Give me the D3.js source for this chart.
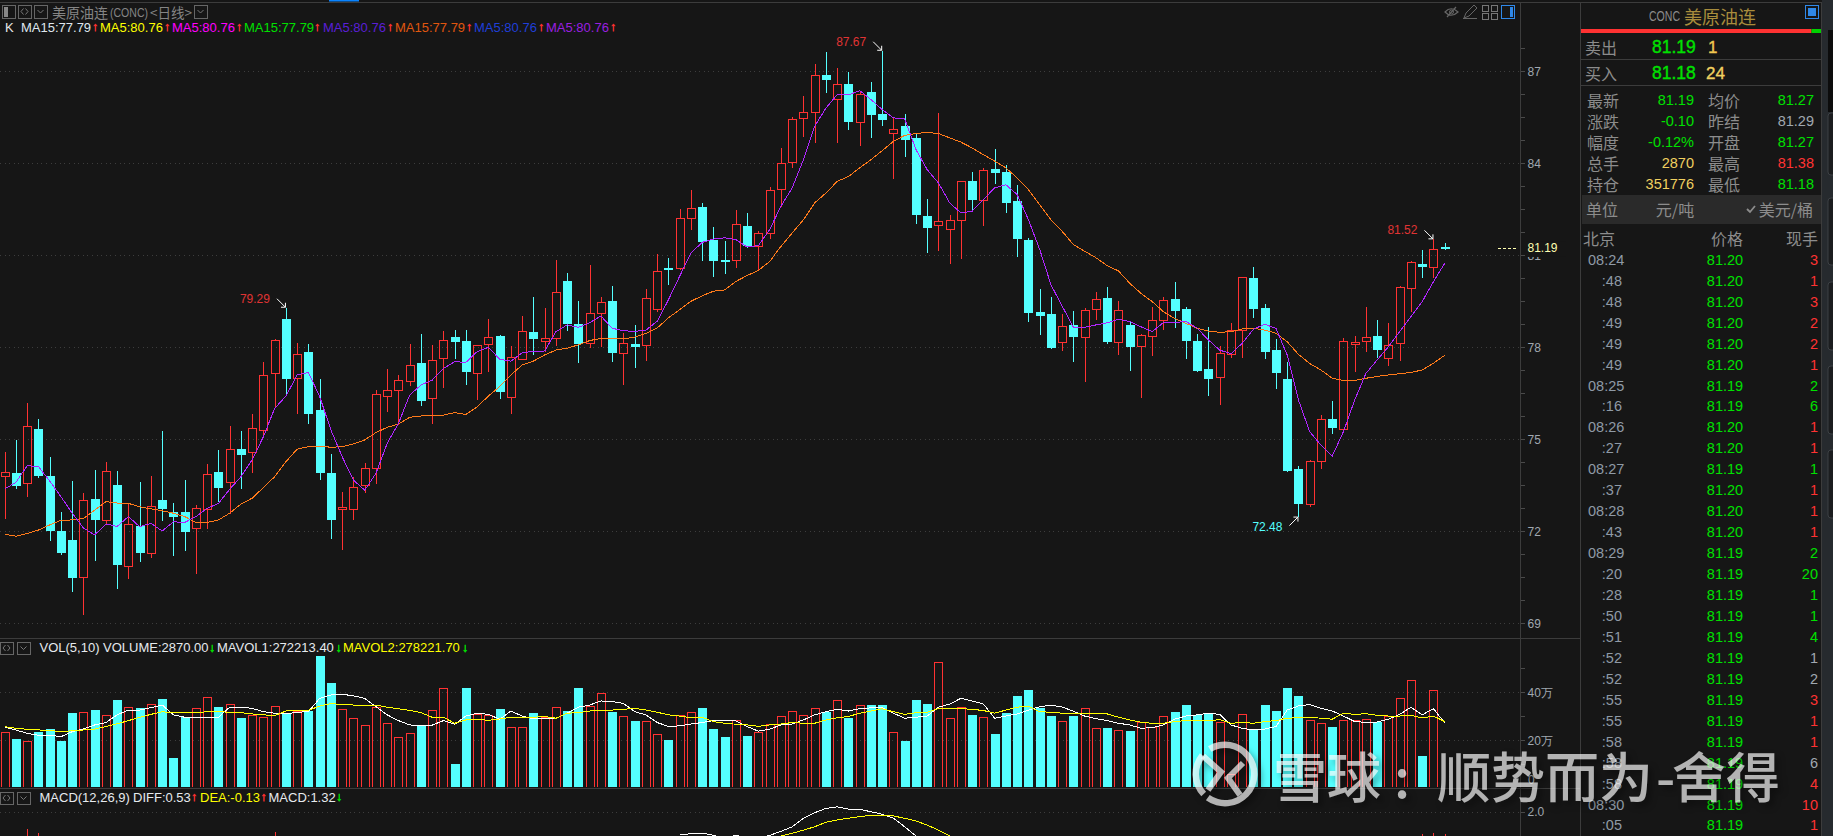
<!DOCTYPE html>
<html><head><meta charset="utf-8">
<script src="https://d3js.org/d3.v7.min.js"></script>
<style>html,body{margin:0;padding:0;background:#161616;overflow:hidden}svg{display:block}
text{font-family:"Liberation Sans",Arial,sans-serif}
.cjk{font-family:"Noto Sans CJK SC",sans-serif}
</style></head><body><svg id="c" width="1833" height="836"></svg>
<script>
// ---------- price series (USD/bbl), one value per trading day ----------
const openPrice=[73.79,73.90,73.56,75.34,73.80,72.01,71.72,70.50,73.05,72.38,
73.51,70.88,72.17,71.30,73.02,72.62,72.63,72.10,72.72,73.93,
73.60,74.68,74.57,75.29,77.15,78.92,77.01,77.85,75.96,73.90,
72.74,72.74,73.50,74.08,76.40,76.60,76.89,77.49,76.34,77.64,
78.34,78.21,77.15,78.10,78.37,76.39,77.61,78.50,78.21,78.29,
80.16,78.76,78.15,79.13,79.51,77.80,78.11,78.06,79.25,80.60,
80.59,82.21,82.56,81.51,80.86,80.84,81.97,81.29,81.72,83.16,
84.03,85.47,85.67,86.89,86.09,86.60,85.34,86.34,85.62,84.98,
85.20,84.84,82.29,81.98,81.85,82.14,83.42,82.81,83.82,83.70,
82.78,81.51,79.16,79.09,78.16,78.73,78.33,79.24,79.61,78.16,
78.73,78.03,78.36,78.90,79.58,79.25,78.21,77.29,77.02,77.79,
78.55,80.26,79.28,77.91,76.97,74.03,72.90,74.28,75.66,75.35,
78.12,78.22,78.37,77.64,78.13,79.92,80.73,80.63,81.27];
const closePrice=[73.92,73.49,75.42,73.81,72.02,71.30,70.49,73.01,72.38,73.95,
70.90,72.23,71.30,72.84,72.73,72.48,71.99,72.75,73.86,73.42,
74.67,74.50,75.36,77.09,78.23,76.98,77.77,75.84,73.91,72.38,
72.78,73.43,74.08,76.47,76.60,76.92,77.41,76.26,77.57,78.23,
78.18,77.21,78.06,78.33,76.55,77.69,78.52,78.27,78.29,79.79,
78.75,78.11,79.11,79.47,77.83,78.13,78.01,79.61,80.49,80.54,
82.22,82.54,81.42,80.81,80.81,82.02,81.29,81.73,83.13,84.01,
85.45,85.67,86.88,86.73,86.59,85.34,86.26,85.59,85.42,85.12,
84.77,82.33,81.90,82.12,82.15,83.42,82.81,83.78,83.67,82.72,
81.54,79.13,79.03,77.99,78.69,78.34,79.20,79.56,78.17,79.20,
78.01,78.39,78.88,79.53,79.19,78.21,77.23,76.97,77.80,78.55,
80.28,79.26,77.85,77.17,73.98,72.90,74.28,75.65,75.37,78.22,
78.16,78.33,77.92,78.06,79.95,80.77,80.62,81.22,81.19];
const highPrice=[74.58,74.98,76.17,75.65,74.41,72.63,73.63,73.25,74.00,74.25,
73.96,72.91,73.61,73.80,75.27,72.91,73.66,72.86,74.19,74.65,
75.45,75.27,75.81,77.52,78.27,79.29,78.15,78.10,76.97,74.52,
73.28,73.78,74.22,76.61,77.28,77.10,78.11,78.43,78.08,78.53,
78.56,78.56,78.06,78.92,78.40,78.04,79.02,79.64,79.27,80.85,
80.41,79.51,80.68,79.65,80.00,78.48,78.73,79.90,81.05,80.92,
82.51,83.14,82.69,81.92,81.48,82.48,82.39,81.78,83.23,84.51,
85.51,86.21,87.25,87.64,87.12,86.99,86.37,86.66,87.67,85.51,
85.62,84.97,82.85,85.65,82.33,83.42,83.72,83.85,84.48,83.96,
83.30,81.58,79.91,79.64,79.09,79.18,79.27,79.79,79.96,79.51,
78.84,78.43,79.31,79.65,80.13,79.30,78.43,78.66,78.04,78.79,
80.28,80.61,79.41,78.26,77.52,74.12,74.31,75.78,76.25,78.29,
78.37,79.30,78.89,78.79,80.00,80.83,81.17,81.52,81.40];
const lowPrice=[72.41,73.38,73.13,73.75,71.69,71.24,70.03,69.28,71.04,72.21,
70.13,70.45,71.01,71.14,72.35,71.21,71.37,70.62,72.09,72.97,
72.57,73.39,73.91,75.15,76.01,76.44,75.84,75.51,73.67,71.76,
71.40,72.38,73.24,73.55,75.90,75.47,76.75,76.09,75.51,76.68,
77.61,76.77,76.29,77.21,76.31,75.84,77.59,77.75,77.86,78.05,
78.53,77.50,77.99,78.02,77.52,76.77,77.34,77.56,79.14,80.02,
80.53,81.82,80.83,80.28,80.40,80.58,81.23,80.53,81.52,82.59,
83.84,84.85,84.65,86.30,84.67,85.07,84.56,84.84,85.23,83.48,
84.22,82.01,81.07,81.13,80.71,80.87,82.42,81.97,83.34,82.39,
80.93,78.82,78.41,77.95,77.89,77.52,76.88,78.89,78.12,77.75,
77.23,76.35,77.73,78.58,78.64,77.62,77.20,76.42,76.13,77.66,
77.66,78.97,77.63,76.65,73.95,72.48,72.80,74.04,75.17,75.30,
77.19,77.86,77.65,77.40,77.56,79.16,80.26,80.26,81.18];
const ma5=[73.38,73.60,74.14,74.11,73.64,73.13,72.59,72.11,71.88,72.24,
72.16,72.48,72.15,72.26,72.01,72.31,72.29,72.48,72.75,72.91,
73.37,73.78,74.33,75.09,76.01,76.41,77.10,77.18,76.39,75.30,
74.43,73.67,73.34,73.89,74.87,75.52,76.44,76.77,76.93,77.31,
77.53,77.51,77.86,78.00,77.61,77.55,77.82,77.87,77.88,78.51,
78.73,78.65,78.80,79.02,78.62,78.54,78.52,78.56,78.85,79.55,
80.32,81.08,81.42,81.53,81.57,81.51,81.27,81.32,81.84,82.60,
83.20,84.12,85.21,85.80,86.24,86.23,86.37,86.08,85.75,85.48,
85.45,84.45,83.79,83.36,82.71,82.38,82.44,82.82,83.20,83.30,
82.98,82.16,81.19,80.04,79.34,78.65,78.65,78.73,78.80,78.91,
78.84,78.67,78.51,78.81,78.81,78.84,78.62,78.24,77.91,77.79,
78.13,78.59,78.75,78.62,77.75,76.28,75.25,74.81,74.45,75.25,
76.28,77.15,77.59,78.02,78.51,79.00,79.49,80.14,80.74];
const ma15=[71.90,71.84,71.93,72.04,72.21,72.36,72.37,72.42,72.69,72.97,
72.92,72.91,72.80,72.73,72.67,72.59,72.48,72.29,72.29,72.37,
72.59,72.89,73.08,73.43,73.78,74.27,74.68,74.76,74.78,74.74,
74.76,74.85,74.98,75.22,75.39,75.50,75.72,75.76,75.78,75.79,
75.87,75.81,76.06,76.41,76.72,77.10,77.42,77.55,77.75,77.91,
77.97,78.08,78.22,78.29,78.28,78.28,78.33,78.45,78.63,78.96,
79.23,79.50,79.68,79.83,79.87,80.15,80.34,80.51,80.80,81.29,
81.73,82.16,82.71,83.03,83.41,83.57,83.85,84.12,84.41,84.72,
84.91,84.97,85.01,84.97,84.83,84.69,84.50,84.28,84.07,83.85,
83.52,83.14,82.65,82.16,81.78,81.35,81.13,80.92,80.66,80.49,
80.09,79.76,79.49,79.16,78.94,78.78,78.62,78.53,78.49,78.51,
78.60,78.62,78.56,78.46,78.18,77.77,77.47,77.26,76.99,76.92,
76.92,76.99,77.05,77.10,77.14,77.18,77.26,77.48,77.74];
// ---------- volume (10k lots) ----------
const volume=[23.3,20.6,19.6,23.6,24.7,19.7,31.4,31.7,32.6,30.4,
36.8,33.8,33.3,35.0,37.2,12.6,29.6,33.3,37.9,33.9,
35.0,29.3,30.4,29.6,34.2,31.3,32.2,32.2,55.1,43.9,
32.9,29.2,26.3,33.8,27.1,21.3,22.9,26.1,32.5,41.7,
10.1,41.8,30.8,30.7,33.1,25.4,25.4,31.4,29.6,33.8,
32.2,41.8,34.3,39.7,31.8,30.0,28.1,27.9,22.5,20.1,
30.4,31.7,33.5,24.7,21.4,28.3,21.8,23.3,26.7,30.0,
32.1,30.4,33.3,31.7,36.7,29.4,34.6,34.7,34.7,23.3,
19.7,36.8,35.1,52.5,29.2,33.8,30.6,29.6,22.6,31.3,
38.5,41.0,33.3,30.1,27.9,30.1,33.3,25.0,25.1,24.2,
23.9,27.8,25.4,30.0,31.8,34.7,30.4,31.4,27.5,6.0,
30.8,24.3,34.7,32.2,41.8,38.5,28.3,27.1,25.6,28.3,
28.3,28.8,27.5,30.0,37.5,45.0,13.5,40.8,0.29];
const mavol1=[25.4,24.3,22.9,22.1,22.1,21.5,23.6,24.7,26.4,27.4,
30.6,32.6,32.6,33.6,34.7,30.6,29.6,29.6,29.6,29.6,
33.8,33.8,33.3,31.9,31.3,31.0,31.7,31.9,37.5,38.9,
39.2,38.5,37.5,34.0,30.6,28.2,26.4,26.1,26.3,28.2,
26.7,30.1,31.3,30.8,28.8,32.2,30.1,29.0,29.0,29.2,
31.3,33.8,34.7,36.4,36.1,35.4,31.9,30.6,27.4,25.8,
26.0,26.8,27.4,28.2,28.3,28.1,25.7,23.8,24.6,26.4,
26.8,28.5,30.6,31.9,32.9,32.2,33.2,33.5,33.6,31.3,
29.2,29.6,30.1,33.8,35.1,37.5,36.4,35.1,29.2,30.1,
31.0,32.6,34.0,34.6,33.9,32.1,30.1,29.0,28.2,27.1,
26.4,25.0,25.3,26.4,28.8,30.1,30.6,31.3,30.8,26.4,
25.0,24.3,24.7,25.7,32.6,34.3,34.9,33.3,32.2,30.1,
27.8,27.5,27.6,28.8,30.8,33.8,30.6,33.2,27.2];
const mavol2=[25.7,25.0,24.6,24.3,24.2,23.5,24.0,24.3,24.7,25.7,
26.9,28.2,29.6,30.8,31.9,31.4,31.4,31.5,31.9,31.9,
31.7,31.5,31.0,30.6,30.3,32.2,32.4,32.5,34.3,35.3,
34.9,34.7,34.7,34.7,33.8,33.1,32.5,31.5,29.6,29.6,
27.1,28.5,28.8,28.3,28.9,29.6,29.6,29.6,29.9,29.2,
31.3,31.5,32.2,32.4,32.6,32.9,33.3,32.6,31.7,30.6,
30.1,29.4,29.6,27.8,27.1,26.7,26.4,25.8,26.4,26.8,
27.4,27.1,27.1,28.5,29.4,29.9,31.3,32.2,33.1,31.9,
30.8,31.5,31.7,33.3,33.3,33.2,32.9,32.4,31.3,32.6,
33.8,34.2,31.9,31.7,31.3,31.3,31.3,31.3,31.0,29.6,
28.5,27.5,27.1,27.1,27.8,28.2,28.2,28.2,28.6,27.1,
27.4,27.1,27.8,28.2,29.2,29.4,29.6,29.2,28.8,31.3,
30.8,31.1,30.4,30.1,30.1,30.4,29.3,30.1,27.8];
// ---------- MACD (only the top of the pane is visible) ----------
const diffStart=60, diffSeries=[1.29,1.33,1.35,1.28,1.19,1.28,1.19,1.19,1.28,1.40,1.54,1.80,1.97,2.10,2.15,2.08,2.07,2.00,1.92,1.80,1.54,1.26,1.10];
const deaStart=68, deaSeries=[1.10,1.26,1.34,1.44,1.54,1.68,1.75,1.80,1.85,1.89,1.89,1.87,1.80,1.72,1.59,1.44,1.26,1.10];
const macdDay=[2,3,24,126,127,128], macdBar=[1.47,1.36,1.39,1.32,1.34,1.32];
// ---------- labels ----------
const priceTicks=[87,84,81,78,75,72,69];
const volTicks=[40,20];
const extremes=[{i:25,v:79.29,up:true},{i:78,v:87.67,up:true},{i:127,v:81.52,up:true},{i:115,v:72.48,up:false}];
const legendK=[["K",5,"#e8e8e8"],["MA15:77.79",21,"#dfe6ee"],["MA5:80.76",100,"#ffff00"],["MA5:80.76",172,"#ff00ff"],["MA15:77.79",244,"#00e000"],["MA5:80.76",323,"#5a1fd6"],["MA15:77.79",395,"#e0560f"],["MA5:80.76",474,"#1f3fd8"],["MA5:80.76",546,"#9a1fe0"]];
const legendKArrows=[95,167,239,317,390,469,541,613];
const quoteRows=[["最新","81.19","#00e000","均价","81.27","#00e000"],["涨跌","-0.10","#00e000","昨结","81.29","#a0a8b0"],["幅度","-0.12%","#00e000","开盘","81.27","#00e000"],["总手","2870","#f0d060","最高","81.38","#ff3333"],["持仓","351776","#f0d060","最低","81.18","#00e000"]];
const tradeTimes=["08:24",":48",":48",":49",":49",":49","08:25",":16","08:26",":27","08:27",":37","08:28",":43","08:29",":20",":28",":50",":51",":52",":52",":55",":55",":58",":58",":58","08:30",":05"];
const tradePrices=[81.20,81.20,81.20,81.20,81.20,81.20,81.19,81.19,81.20,81.20,81.19,81.20,81.20,81.20,81.19,81.19,81.19,81.19,81.19,81.19,81.19,81.19,81.19,81.19,81.19,81.19,81.19,81.19];
const tradeQty=[3,1,3,2,2,1,2,6,1,1,1,1,1,1,2,20,1,1,4,1,2,3,1,1,6,4,10,1];
const tradeSide=["r","r","r","r","r","r","g","g","r","r","g","r","r","r","g","g","g","g","g","n","n","r","r","r","n","r","r","r"];

const RED="#ff3232",CYAN="#54ffff",BG="#161616",LINE="#3c3c3c",GREEN="#00e000",GREY="#a0a8b0",LABEL="#8c8c8c";
const svg=d3.select("#c");
svg.append("rect").attr("width",1833).attr("height",836).attr("fill",BG);
const x=d3.scaleLinear().domain([0,128]).range([4.7,1444.7]);
const y=d3.scaleLinear().domain([69,87]).range([623.3,71.3]);
const yV=d3.scaleLinear().domain([0,40]).range([788.3,692.3]);
const yM=d3.scaleLinear().domain([0,2]).range([877.3,811.7]);
const px=v=>Math.round(v)+.5;
const days=d3.range(openPrice.length);

const defs=svg.append("defs");
[["cMain",0,20,1520,618],["cVol",0,638,1520,149],["cMacd",0,788,1520,48]].forEach(c=>defs.append("clipPath").attr("id",c[0]).append("rect").attr("x",c[1]).attr("y",c[2]).attr("width",c[3]).attr("height",c[4]));

function grid(vals,scale){svg.append("g").attr("shape-rendering","crispEdges").selectAll("line").data(vals).join("line")
 .attr("x1",0).attr("x2",1520).attr("y1",d=>px(scale(d))).attr("y2",d=>px(scale(d)))
 .attr("stroke","#3d3d3d").attr("stroke-dasharray","1,3.6");}
grid(priceTicks,y);grid(volTicks,yV);grid([2],yM);

// candles
const gK=svg.append("g").attr("clip-path","url(#cMain)").attr("shape-rendering","crispEdges");
const cand=gK.selectAll("g").data(days).join("g");
cand.each(function(i){
 const g=d3.select(this),up=closePrice[i]>=openPrice[i],c=up?RED:CYAN,cx=Math.round(x(i));
 const top=Math.round(y(Math.max(openPrice[i],closePrice[i]))),bot=Math.round(y(Math.min(openPrice[i],closePrice[i])));
 g.append("line").attr("x1",cx+.5).attr("x2",cx+.5).attr("y1",y(highPrice[i])).attr("y2",top).attr("stroke",c);
 g.append("line").attr("x1",cx+.5).attr("x2",cx+.5).attr("y1",bot).attr("y2",y(lowPrice[i])).attr("stroke",c);
 if(up) g.append("rect").attr("x",cx-3.5).attr("y",top+.5).attr("width",8).attr("height",Math.max(1,bot-top)).attr("fill","none").attr("stroke",c);
 else g.append("rect").attr("x",cx-4).attr("y",top).attr("width",9).attr("height",Math.max(2,bot-top)).attr("fill",c);
});
const lineOf=(s,sc,start=0)=>d3.line().x((d,k)=>x(k+start)).y(d=>sc(d))(s);
const gL=svg.append("g").attr("clip-path","url(#cMain)").attr("fill","none").attr("stroke-width",1).attr("shape-rendering","crispEdges");
gL.append("path").attr("d",lineOf(ma15,y)).attr("stroke","#ff7a1a");
gL.append("path").attr("d",lineOf(ma5,y)).attr("stroke","#b026ff");

// extreme markers
const gE=svg.append("g");
extremes.forEach(e=>{
 const px0=x(e.i),py0=y(e.v),hi=e.up;
 const [ax,ay]=hi?[px0-9,py0-9]:[px0-9,py0+9];
 gE.append("path").attr("d",`M${ax},${ay}L${px0-.5},${py0+(hi?-.5:.5)}M${px0-5},${py0+(hi?-.5:.5)}H${px0-.5}V${py0+(hi?-5:5)}`).attr("stroke","#fff").attr("fill","none");
 gE.append("text").attr("x",px0-31).attr("y",py0+(hi?-9:10)).attr("text-anchor","middle").attr("dominant-baseline","central").attr("font-size",12)
  .attr("fill",hi?"#e03434":"#54ffff").text(e.v.toFixed(2));
});

// volume
const gV=svg.append("g").attr("clip-path","url(#cVol)").attr("shape-rendering","crispEdges");
gV.selectAll("rect").data(days).join("rect").each(function(i){
 const up=closePrice[i]>=openPrice[i],cx=Math.round(x(i)),t=Math.round(yV(volume[i]));
 const r=d3.select(this);
 if(up) r.attr("x",cx-3.5).attr("y",t+.5).attr("width",8).attr("height",786.5-t).attr("fill","none").attr("stroke",RED);
 else r.attr("x",cx-4).attr("y",t).attr("width",9).attr("height",787-t).attr("fill",CYAN);
});
const gVL=svg.append("g").attr("clip-path","url(#cVol)").attr("fill","none").attr("stroke-width",1).attr("shape-rendering","crispEdges");
gVL.append("path").attr("d",lineOf(mavol1,yV)).attr("stroke","#ffffff");
gVL.append("path").attr("d",lineOf(mavol2,yV)).attr("stroke","#ffff00");

// macd
const gM=svg.append("g").attr("clip-path","url(#cMacd)").attr("shape-rendering","crispEdges");
gM.selectAll("line").data(macdDay).join("line").attr("x1",d=>px(x(d))).attr("x2",d=>px(x(d))).attr("y1",(d,k)=>yM(macdBar[k])).attr("y2",840).attr("stroke",RED);
gM.append("path").attr("d",lineOf(diffSeries,yM,diffStart)).attr("fill","none").attr("stroke","#fff");
gM.append("path").attr("d",lineOf(deaSeries,yM,deaStart)).attr("fill","none").attr("stroke","#ffff00");

// frame
const frame=svg.append("g").attr("stroke",LINE).attr("shape-rendering","crispEdges");
[[0,2.5,1833,2.5],[0,638.5,1580,638.5],[0,788.5,1580,788.5],[1520.5,2,1520.5,836],[1580.5,2,1580.5,836],[1821.5,2,1821.5,836]].forEach(l=>frame.append("line").attr("x1",l[0]).attr("y1",l[1]).attr("x2",l[2]).attr("y2",l[3]));
svg.append("rect").attr("x",329).attr("y",0).attr("width",30).attr("height",1.5).attr("fill","#0a84ff");

// axes through d3
function styleAxis(g){g.select(".domain").remove();g.selectAll("line").attr("stroke","#4a4a4a").attr("shape-rendering","crispEdges");
 g.selectAll("text").attr("fill",GREY).attr("font-size",12).attr("font-family","'Liberation Sans','Noto Sans CJK SC'");}
const aK=svg.append("g").attr("transform","translate(1520.5,0)").call(d3.axisRight(y).tickValues(d3.range(69,87.76,.75)).tickSize(4).tickPadding(3).tickFormat(d=>priceTicks.includes(d)?d:""));
aK.call(styleAxis);
const aV=svg.append("g").attr("transform","translate(1520.5,0)").call(d3.axisRight(yV).tickValues([10,20,30,40,50]).tickSize(4).tickPadding(3).tickFormat(d=>volTicks.includes(d)?d+"万":""));
aV.call(styleAxis);
svg.append("text").attr("x",1528).attr("y",780).attr("dominant-baseline","central").attr("font-size",12).attr("fill",GREY).text("0");
const aM=svg.append("g").attr("transform","translate(1520.5,0)").call(d3.axisRight(yM).tickValues([2]).tickSize(4).tickPadding(3).tickFormat(d3.format(".1f")));
aM.call(styleAxis);
// last price tag: it masks most of the "81" axis label, as in the source
const yLast=y(closePrice[128]);
svg.append("rect").attr("x",1526).attr("y",yLast-8).attr("width",40).attr("height",15.5).attr("fill",BG);
svg.append("line").attr("x1",1498).attr("x2",1518).attr("y1",px(yLast-1)).attr("y2",px(yLast-1)).attr("stroke","#ffffb0").attr("stroke-dasharray","3,2").attr("shape-rendering","crispEdges");
svg.append("text").attr("x",1527.5).attr("y",yLast-1).attr("dominant-baseline","central").attr("font-size",12).attr("fill","#ffffb0").text(closePrice[128].toFixed(2));

// helpers
function t(g,s,xx,yy,size,fill,o={}){const e=g.append("text").attr("x",xx).attr("y",yy).attr("font-size",size).attr("fill",fill).attr("dominant-baseline","central").attr("text-anchor",o.a||"start").text(s);
 if(o.cjk)e.attr("class","cjk"); if(o.w)e.attr("font-weight",o.w); if(o.len)e.attr("textLength",o.len).attr("lengthAdjust","spacingAndGlyphs");
 if(o.sw)e.attr("stroke",fill).attr("stroke-width",o.sw); return e;}
function box(g,xx,yy,w,h,c="#666"){g.append("rect").attr("x",xx+.5).attr("y",yy+.5).attr("width",w).attr("height",h).attr("fill","none").attr("stroke",c).attr("shape-rendering","crispEdges");}
function chev(g,xx,yy){g.append("path").attr("d",`M${xx},${yy-1.5}l3,3l3,-3`).attr("fill","none").attr("stroke","#777");}
function diam(g,xx,yy){g.append("path").attr("d",`M${xx-1},${yy-3}l-2.5,3l2.5,3M${xx+1},${yy-3}l2.5,3l-2.5,3`).attr("fill","none").attr("stroke","#777");}
const H=svg.append("g");

// title row
box(H,2,5,13,13);H.append("rect").attr("x",4).attr("y",7).attr("width",4).attr("height",10).attr("fill","#888");
box(H,18,5,13,13);diam(H,24.5,11.5);box(H,34,5,13,13);chev(H,37.5,11.5);
t(H,"美原油连",52,12,14,"#858585",{cjk:1});t(H,"(CONC)",110,12,13,"#858585",{len:38});t(H,"<日线>",150,12,14,"#858585",{cjk:1,len:42});
box(H,194,5,13,13);chev(H,197.5,11.5);
legendK.forEach(l=>t(H,l[0],l[1],27,13,l[2]));
legendKArrows.forEach(a=>t(H,"↑",a,27,12,"#ff3232",{a:"middle",w:"bold",sw:.5}));

// right-top icons
H.append("path").attr("d","M1445,12q6,-6.5 13,0q-7,6.5 -13,0zM1447,17l9,-10").attr("fill","none").attr("stroke","#666").attr("stroke-width",1.2);
H.append("circle").attr("cx",1451.5).attr("cy",12).attr("r",2).attr("fill","none").attr("stroke","#666");
H.append("path").attr("d","M1464,18l2,-5l8,-8l3,3l-8,8zM1463,18.5h14").attr("fill","none").attr("stroke","#666");
[[1482,5],[1491,5],[1482,13],[1491,13]].forEach(p=>box(H,p[0],p[1],5.5,5.5,"#777"));
box(H,1501,5,13,13,"#2f88e8");H.append("rect").attr("x",1510).attr("y",7).attr("width",3).attr("height",10).attr("fill","#2f88e8");

// vol / macd headers
[642,792].forEach(b=>{box(H,0,b,13,12);diam(H,6.5,b+6);box(H,17,b,13,12);chev(H,20.5,b+6);});
t(H,"VOL(5,10)",39.5,647.5,13,"#e6eaee");t(H,"VOLUME:2870.00",103,647.5,13,"#e6eaee");t(H,"MAVOL1:272213.40",217,647.5,13,"#e6eaee");t(H,"MAVOL2:278221.70",343,647.5,13,"#ffff00");
[212,338.5,465].forEach(a=>t(H,"↓",a,647.5,12,"#00e000",{a:"middle",w:"bold",sw:.5}));
t(H,"MACD(12,26,9)",39.5,797,13,"#e6eaee");t(H,"DIFF:0.53",133,797,13,"#e6eaee");t(H,"DEA:-0.13",200,797,13,"#ffff00");t(H,"MACD:1.32",268.5,797,13,"#e6eaee");
t(H,"↑",194,797,12,"#ff3232",{a:"middle",w:"bold",sw:.5});t(H,"↑",263.5,797,12,"#ff3232",{a:"middle",w:"bold",sw:.5});t(H,"↓",339,797,12,"#00e000",{a:"middle",w:"bold",sw:.5});

// quote panel
const P=svg.append("g");
t(P,"CONC",1649,16,14,"#8c8c8c",{len:31});t(P,"美原油连",1684,16,18,"#a88c3c",{cjk:1});
box(P,1805,5,13,13,"#2f88e8");P.append("rect").attr("x",1808).attr("y",8).attr("width",8).attr("height",8).attr("fill","#2f88e8");
const bidAskShare=d3.scaleLinear().domain([0,25]).range([1581,1821]);
P.append("rect").attr("x",1581).attr("y",29).attr("width",bidAskShare(24)-1581).attr("height",4).attr("fill","#ff3232");
P.append("rect").attr("x",bidAskShare(24)).attr("y",29).attr("width",1821-bidAskShare(24)).attr("height",4).attr("fill","#00d000");
[59.5,85.5].forEach(l=>P.append("line").attr("x1",1581).attr("x2",1821).attr("y1",l).attr("y2",l).attr("stroke",LINE));
t(P,"卖出",1585,47,16,LABEL,{cjk:1});t(P,"81.19",1652,47,17.5,GREEN,{sw:.35});t(P,"1",1708,47,17,"#f0c850",{sw:.35});
t(P,"买入",1585,73,16,LABEL,{cjk:1});t(P,"81.18",1652,73,17.5,GREEN,{sw:.35});t(P,"24",1706,73,17,"#f0d060",{sw:.35});
quoteRows.forEach((r,k)=>{const yy=100+k*21;
 t(P,r[0],1587,yy,16,LABEL,{cjk:1});t(P,r[1],1694,yy,14.5,r[2],{a:"end"});
 t(P,r[3],1708,yy,16,LABEL,{cjk:1});t(P,r[4],1814,yy,14.5,r[5],{a:"end"});});
P.append("rect").attr("x",1582).attr("y",195).attr("width",239).attr("height",29).attr("fill","#2a2a2a");
t(P,"单位",1586,209,16,LABEL,{cjk:1});t(P,"元/吨",1675,209,16,LABEL,{cjk:1,a:"middle"});t(P,"美元/桶",1813,209,16,LABEL,{cjk:1,a:"end"});
P.append("path").attr("d","M1747,209l3,3l5,-6").attr("fill","none").attr("stroke",LABEL).attr("stroke-width",1.8);
t(P,"北京",1583,238,16,LABEL,{cjk:1});t(P,"价格",1727,238,16,LABEL,{cjk:1,a:"middle"});t(P,"现手",1818,238,16,LABEL,{cjk:1,a:"end"});
const sideColor={r:"#ff3232",g:GREEN,n:GREY};
tradeTimes.forEach((tm,k)=>{const yy=259.8+k*20.95;
 t(P,tm,tm.length>3?1588:1622,yy,14.5,"#8f9aa6",{a:tm.length>3?"start":"end"});
 t(P,tradePrices[k].toFixed(2),1725,yy,14.5,GREEN,{a:"middle"});
 t(P,tradeQty[k],1818,yy,14.5,sideColor[tradeSide[k]],{a:"end"});});

// right sliver
const S=svg.append("g");
S.append("rect").attr("x",1822).attr("y",0).attr("width",11).attr("height",836).attr("fill","#262a2e");
S.append("rect").attr("x",1828).attr("y",30).attr("width",5).attr("height",82).attr("fill","#0c0c0c");
[[113,175],[198,265],[282,350],[366,434],[450,518]].forEach(b=>S.append("path").attr("d",`M1833,${b[0]}h-2q-3,0 -3,3v${b[1]-b[0]-6}q0,3 3,3h2`).attr("fill","#1b1d1f").attr("stroke","#3c4044"));

// watermark
const wmColor="rgba(255,255,255,.68)";
const W=svg.append("g").style("filter","drop-shadow(4px 4px 3px rgba(0,0,0,.5))").attr("fill",wmColor);
W.append("path").attr("d",d3.arc()({innerRadius:26,outerRadius:32.5,startAngle:-0.55,endAngle:Math.PI*1.2})).attr("transform","translate(1225,774)");
W.append("path").attr("d",d3.arc()({innerRadius:26,outerRadius:32.5,startAngle:Math.PI*1.26,endAngle:Math.PI*1.72})).attr("transform","translate(1225,774)");
W.append("path").attr("d","M1203,756L1221,772L1208,790M1243,763L1228,778L1240,795").attr("fill","none").attr("stroke",wmColor).attr("stroke-width",6);
const wm=(s,xx)=>W.append("text").attr("class","cjk").attr("x",xx).attr("y",774).attr("font-size",54).attr("font-weight",500).attr("dominant-baseline","central").text(s);
wm("雪球",1273);wm(":",1394);wm("顺势而为",1437);wm("-",1656);wm("舍得",1672);
</script></body></html>
